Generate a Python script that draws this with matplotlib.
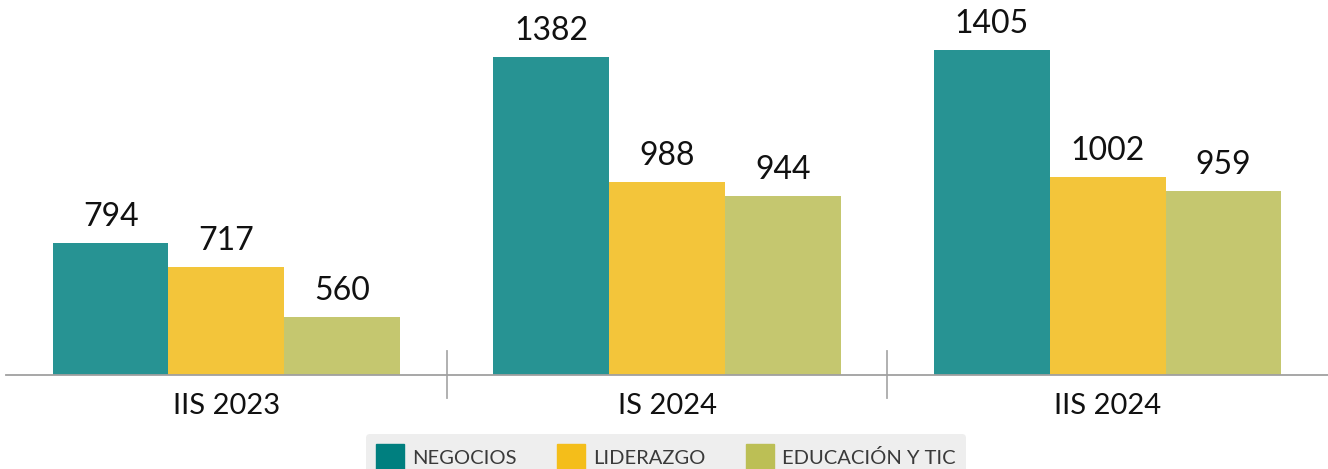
import matplotlib.pyplot as plt
import numpy as np
from matplotlib.patches import Patch

# datos
periodos = ['IIS 2023', 'IS 2024', 'IIS 2024']
negocios = [794, 1382, 1405]
liderazgo = [717, 988, 1002]
educacion = [560, 944, 959]
series = ['NEGOCIOS', 'LIDERAZGO', 'EDUCACIÓN Y TIC']

col_barras = ['#279393', '#F3C53A', '#C5C76F']
col_leyenda = ['#007F7F', '#F4BE1A', '#BCBF55']

plt.rcParams['font.family'] = ['Lato', 'DejaVu Sans']

fig = plt.figure(figsize=(13.28, 4.69), dpi=100)
ax = fig.add_axes([6 / 1328, 1 - 375 / 469, 1322 / 1328, 375 / 469])

x = np.arange(len(periodos))
w = 0.2626
for i, vals in enumerate([negocios, liderazgo, educacion]):
    barras = ax.bar(x + (i - 1) * w, vals, w, color=col_barras[i])
    for b, v in zip(barras, vals):
        ax.annotate(str(v), (b.get_x() + b.get_width() / 2, v),
                    xytext=(0, 8), textcoords='offset points',
                    ha='center', va='bottom', fontsize=23, color='#111111')

ax.set_xlim(-0.5, 2.5)
ax.set_ylim(377, 1563)

# separadores entre grupos
for s in [0.5, 1.5]:
    ax.plot([s, s], [0.064, -0.062], color='#AAAAAA', lw=1.3,
            transform=ax.get_xaxis_transform(), clip_on=False)

for lado in ['top', 'right', 'left']:
    ax.spines[lado].set_visible(False)
ax.spines['bottom'].set_color('#A0A0A0')
ax.spines['bottom'].set_linewidth(1.3)
ax.set_yticks([])
ax.set_xticks(x, periodos, fontsize=21, color='#111111')
ax.tick_params(axis='x', length=0, pad=13)

handles = [Patch(color=c) for c in col_leyenda]
leg = fig.legend(handles, series, loc='upper center', bbox_to_anchor=(0.5015, 1 - 424 / 469),
                 ncol=3, frameon=True, fancybox=True, facecolor='#EEEEEE', edgecolor='none',
                 framealpha=1, fontsize=14.5, handlelength=1.4, handleheight=1.7,
                 handletextpad=0.4, columnspacing=2.0, borderpad=0.5)
for t in leg.get_texts():
    t.set_color('#3A3A3A')

fig.savefig('out.png', dpi=100)
